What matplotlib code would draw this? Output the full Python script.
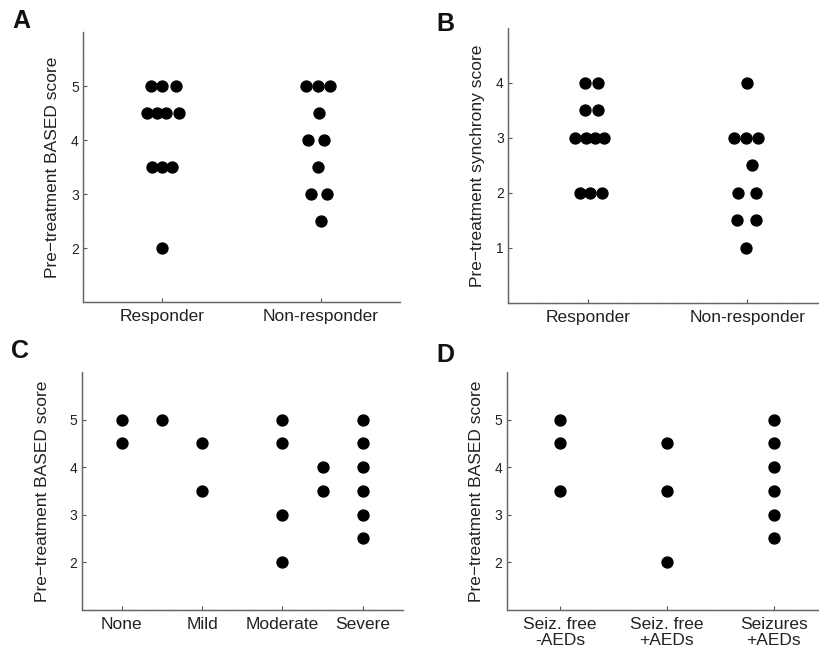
import matplotlib
matplotlib.use("Agg")
import matplotlib.pyplot as plt

plt.rcParams['font.family'] = ['Liberation Sans', 'DejaVu Sans']

# ---------------- Panel A data ----------------
a_categories = ["Responder", "Non-responder"]
a_resp_y = [5, 5, 5, 4.5, 4.5, 4.5, 4.5, 3.5, 3.5, 3.5, 2]
a_resp_x = [0.927, 1.0, 1.085, 0.902, 0.965, 1.021, 1.104, 0.933, 1.0, 1.064, 1.0]
a_non_y = [5, 5, 5, 4.5, 4, 4, 3.5, 3, 3, 2.5]
a_non_x = [1.91, 1.98, 2.06, 1.99, 1.92, 2.02, 1.985, 1.94, 2.04, 2.0]

# ---------------- Panel B data ----------------
b_categories = ["Responder", "Non-responder"]
b_resp_y = [4, 4, 3.5, 3.5, 3, 3, 3, 3, 2, 2, 2]
b_resp_x = [0.98, 1.062, 0.98, 1.062, 0.921, 0.988, 1.046, 1.104, 0.952, 1.015, 1.091]
b_non_y = [4, 3, 3, 3, 2.5, 2, 2, 1.5, 1.5, 1]
b_non_x = [2.0, 1.917, 1.99, 2.066, 2.031, 1.942, 2.056, 1.938, 2.058, 1.99]

# ---------------- Panel C data ----------------
c_categories = ["None", "Mild", "Moderate", "Severe"]
c_x = [1, 1, 1.5, 2, 2, 3, 3, 3, 3, 3.5, 3.5, 4, 4, 4, 4, 4, 4]
c_y = [5, 4.5, 5, 4.5, 3.5, 5, 4.5, 3, 2, 4, 3.5, 5, 4.5, 4, 3.5, 3, 2.5]

# ---------------- Panel D data ----------------
d_categories = ["Seiz. free\n-AEDs", "Seiz. free\n+AEDs", "Seizures\n+AEDs"]
d_x = [1, 1, 1, 2, 2, 2, 3, 3, 3, 3, 3, 3]
d_y = [5, 4.5, 3.5, 4.5, 3.5, 2, 5, 4.5, 4, 3.5, 3, 2.5]

fig = plt.figure(figsize=(8.2, 6.54), dpi=100)

def style(ax, xticks, xlabels, yticks, ylim, xlim, ylabel, labelpad=8):
    for s in ["top", "right"]:
        ax.spines[s].set_visible(False)
    for s in ["left", "bottom"]:
        ax.spines[s].set_color("#666666")
        ax.spines[s].set_linewidth(1.0)
        ax.spines[s].set_linestyle((0, (1, 0.6)))
    ax.set_xlim(*xlim)
    ax.set_ylim(*ylim)
    ax.set_xticks(xticks)
    ax.set_xticklabels(xlabels, fontsize=12.5, color="#222222")
    ax.set_yticks(yticks)
    ax.set_yticklabels([str(t) for t in yticks], fontsize=10, color="#222222")
    ax.tick_params(direction="in", length=3, width=0.8, color="#555555")
    ax.tick_params(axis="x", pad=5)
    ax.tick_params(axis="y", pad=3)
    ax.set_ylabel(ylabel, fontsize=12.5, color="#222222", labelpad=labelpad)
    ax.patch.set_alpha(0)

ms = 62

axA = fig.add_axes([0.1012, 0.5382, 0.3866, 0.4128])
axA.scatter(a_resp_x, a_resp_y, s=ms, color="black", zorder=3, clip_on=False)
axA.scatter(a_non_x, a_non_y, s=ms, color="black", zorder=3, clip_on=False)
style(axA, [1, 2], a_categories, [2, 3, 4, 5], (1, 6), (0.5, 2.5),
      "Pre\u2212treatment BASED score")

axB = fig.add_axes([0.6195, 0.5367, 0.389, 0.4205])
axB.scatter(b_resp_x, b_resp_y, s=ms, color="black", zorder=3, clip_on=False)
axB.scatter(b_non_x, b_non_y, s=ms, color="black", zorder=3, clip_on=False)
style(axB, [1, 2], b_categories, [1, 2, 3, 4], (0, 5), (0.5, 2.5),
      "Pre\u2212treatment synchrony score")

axC = fig.add_axes([0.0996, 0.0677, 0.3918, 0.3635])
axC.scatter(c_x, c_y, s=ms, color="black", zorder=3, clip_on=False)
style(axC, [1, 2, 3, 4], c_categories, [2, 3, 4, 5], (1, 6), (0.5, 4.5),
      "Pre\u2212treatment BASED score", labelpad=14)

axD = fig.add_axes([0.618, 0.0677, 0.3906, 0.3635])
axD.scatter(d_x, d_y, s=ms, color="black", zorder=3, clip_on=False)
style(axD, [1, 2, 3], d_categories, [2, 3, 4, 5], (1, 6), (0.5, 3.5),
      "Pre\u2212treatment BASED score")
for lbl in axD.get_xticklabels():
    lbl.set_linespacing(1.1)

for letter, x, y in [("A", 12, 9), ("B", 436, 12), ("C", 11, 339), ("D", 436, 343)]:
    fig.text(x / 820, 1 - y / 654, letter, fontsize=18, fontweight="bold",
             va="top", ha="left", color="#111111")

fig.savefig("out.png", dpi=100)
